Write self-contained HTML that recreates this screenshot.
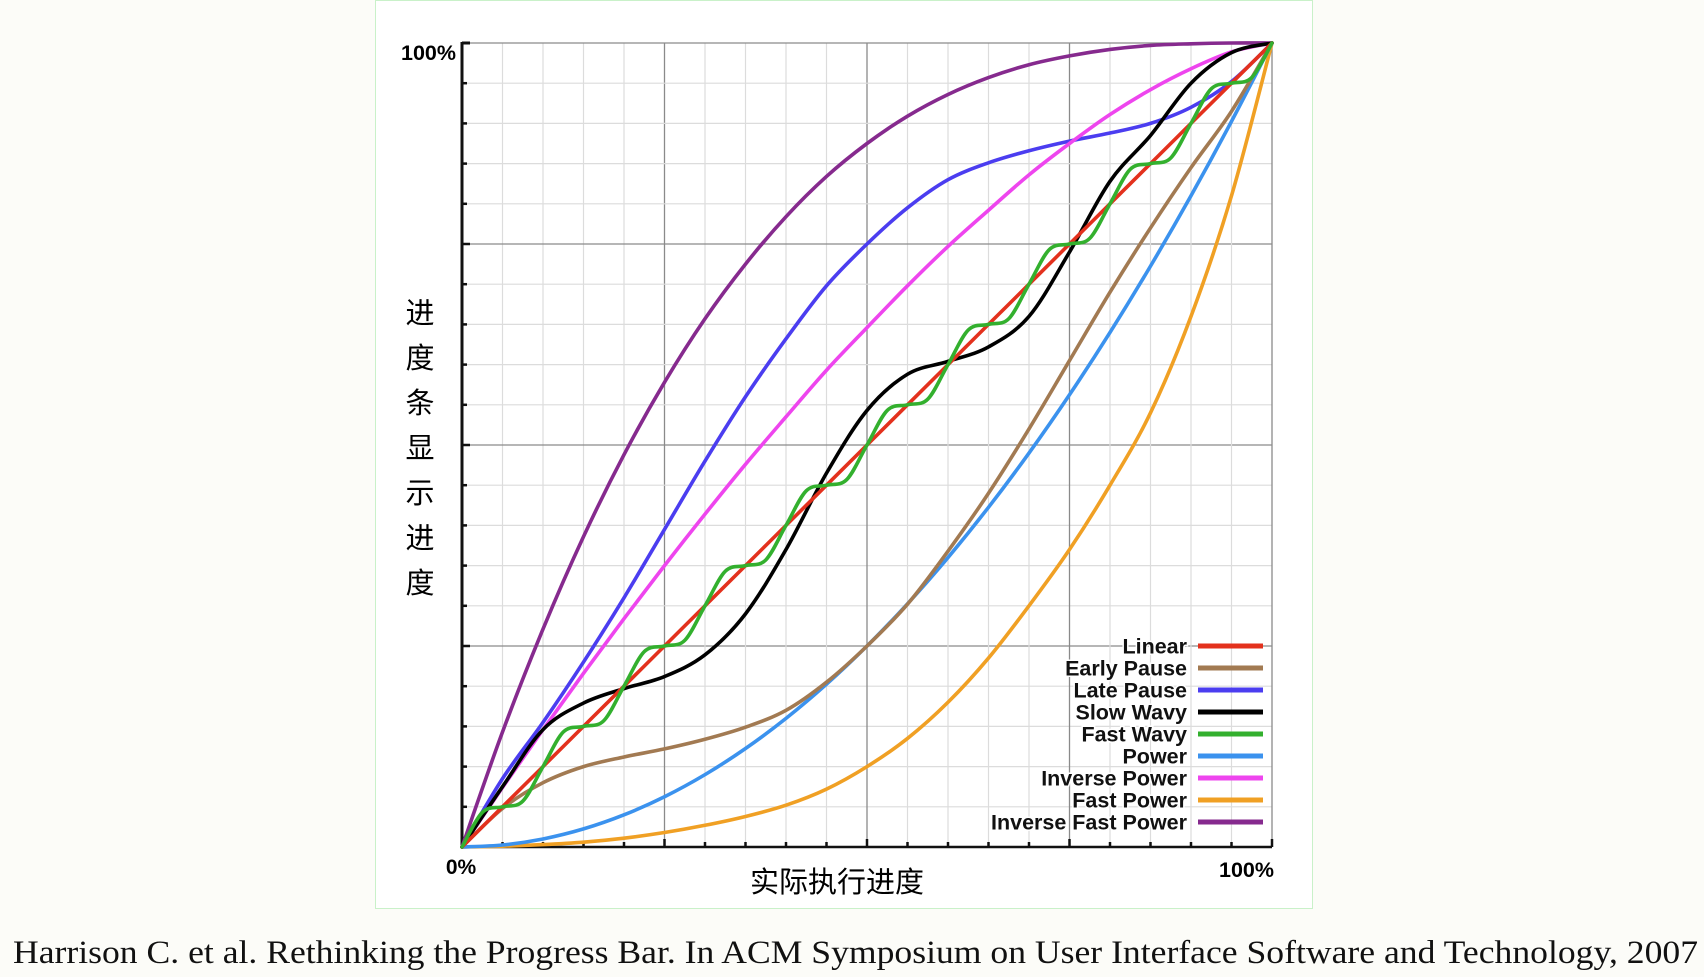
<!DOCTYPE html>
<html><head><meta charset="utf-8">
<style>
html,body{margin:0;padding:0;background:#fcfcf8;}
svg{display:block;}
</style></head>
<body>
<svg id="chart" width="1704" height="977" viewBox="0 0 1704 977" xmlns="http://www.w3.org/2000/svg">
  <rect x="375.5" y="0.5" width="937" height="908" fill="#ffffff" stroke="#c9f1c9" stroke-width="1"/>
  <g id="grid"></g>
  <g id="axes"></g>
  <g id="series"></g>
  <g id="legend"></g>
  <text x="456" y="60" text-anchor="end" font-family="Liberation Sans, sans-serif" font-weight="bold" font-size="21.5">100%</text>
  <text x="461" y="874" text-anchor="middle" font-family="Liberation Sans, sans-serif" font-weight="bold" font-size="21">0%</text>
  <text x="1274" y="877" text-anchor="end" font-family="Liberation Sans, sans-serif" font-weight="bold" font-size="21.5">100%</text>
  <text x="837" y="892" text-anchor="middle" font-family="Liberation Sans, 'Noto Sans CJK SC', sans-serif" font-size="29">实际执行进度</text>
  <g font-family="Liberation Sans, 'Noto Sans CJK SC', sans-serif" font-size="29" text-anchor="middle">
    <text x="420" y="323">进</text><text x="420" y="368">度</text><text x="420" y="413">条</text><text x="420" y="458">显</text><text x="420" y="503">示</text><text x="420" y="548">进</text><text x="420" y="593">度</text>
  </g>
  <text x="13" y="963" textLength="1685" lengthAdjust="spacingAndGlyphs" font-family="Liberation Serif, serif" font-size="33" fill="#111">Harrison C. et al. Rethinking the Progress Bar. In ACM Symposium on User Interface Software and Technology, 2007</text>
</svg>
<script>
const xs20 = [0,0.05,0.1,0.15,0.2,0.25,0.3,0.35,0.4,0.45,0.5,0.55,0.6,0.65,0.7,0.75,0.8,0.85,0.9,0.95,1];
const xs40 = [0,0.025,0.05,0.075,0.1,0.125,0.15,0.175,0.2,0.225,0.25,0.275,0.3,0.325,0.35,0.375,0.4,0.425,0.45,0.475,0.5,0.525,0.55,0.575,0.6,0.625,0.65,0.675,0.7,0.725,0.75,0.775,0.8,0.825,0.85,0.875,0.9,0.925,0.95,0.975,1];
const linearVals = [0,0.05,0.1,0.15,0.2,0.25,0.3,0.35,0.4,0.45,0.5,0.55,0.6,0.65,0.7,0.75,0.8,0.85,0.9,0.95,1];
const earlyPauseVals = [0,0.048,0.08,0.1,0.112,0.122,0.134,0.149,0.17,0.205,0.25,0.302,0.368,0.44,0.52,0.605,0.69,0.77,0.845,0.915,1];
const latePauseVals = [0,0.085,0.155,0.23,0.31,0.395,0.48,0.56,0.632,0.698,0.75,0.795,0.83,0.851,0.866,0.878,0.888,0.9,0.92,0.952,1];
const slowWavyVals = [0,0.075,0.146,0.179,0.197,0.212,0.239,0.29,0.37,0.465,0.543,0.588,0.604,0.622,0.66,0.74,0.828,0.885,0.95,0.988,1];
const fastWavyVals = [0,0.043,0.05,0.057,0.1,0.143,0.15,0.157,0.2,0.243,0.25,0.257,0.3,0.343,0.35,0.357,0.4,0.443,0.45,0.457,0.5,0.543,0.55,0.557,0.6,0.643,0.65,0.657,0.7,0.743,0.75,0.757,0.8,0.843,0.85,0.857,0.9,0.943,0.95,0.957,1];
const powerVals = [0,0.0025,0.01,0.0225,0.04,0.0625,0.09,0.1225,0.16,0.2025,0.25,0.3025,0.36,0.4225,0.49,0.5625,0.64,0.7225,0.81,0.9025,1];
const inversePowerVals = [0,0.074,0.146,0.216,0.284,0.35,0.414,0.476,0.535,0.593,0.646,0.698,0.747,0.792,0.836,0.875,0.911,0.942,0.968,0.989,1];
const fastPowerVals = [0,0.001,0.003,0.006,0.011,0.018,0.027,0.038,0.052,0.072,0.1,0.135,0.18,0.235,0.3,0.37,0.45,0.54,0.66,0.81,1];
const inverseFastPowerVals = [0,0.143,0.271,0.386,0.488,0.578,0.657,0.725,0.784,0.834,0.875,0.909,0.936,0.957,0.973,0.984,0.992,0.997,0.999,1,1];
const seriesNames = ["Linear","Early Pause","Late Pause","Slow Wavy","Fast Wavy","Power","Inverse Power","Fast Power","Inverse Fast Power"];

const NS="http://www.w3.org/2000/svg";
const X0=462,X1=1272,Y0=847,Y1=43;
function sx(v){return X0+v*(X1-X0);}
function sy(v){return Y0-v*(Y0-Y1);}
function mk(tag,attrs,parent){const e=document.createElementNS(NS,tag);for(const k in attrs)e.setAttribute(k,attrs[k]);parent.appendChild(e);return e;}

const grid=document.getElementById('grid');
for(let i=1;i<=20;i++){
  const major=(i%5===0);
  const gx=sx(i/20);
  const l=mk('line',{x1:gx,y1:Y1,x2:gx,y2:Y0,stroke:major?'#8a8a8a':'#dcdcdc','stroke-width':major?1.3:1.2},grid);
  
  
  const gy=sy(i/20);
  const h=mk('line',{x1:X0,y1:gy,x2:X1,y2:gy,stroke:major?'#8a8a8a':'#dcdcdc','stroke-width':major?1.3:1.2},grid);
  
  
}
const axes=document.getElementById('axes');
const ya=mk('line',{x1:X0,y1:Y1-1,x2:X0,y2:Y0+1,stroke:'#111','stroke-width':3},axes);


const xa=mk('line',{x1:X0-1,y1:Y0,x2:X1,y2:Y0,stroke:'#111','stroke-width':2.5},axes);


mk('line',{x1:X0,y1:Y1,x2:X0+8,y2:Y1,stroke:'#111','stroke-width':3},axes);
for(let i=0;i<=20;i++){
  const major=(i%5===0);
  const t=mk('line',{x1:X0,y1:sy(i/20),x2:X0+(major?8:5),y2:sy(i/20),stroke:'#111','stroke-width':2.5},axes);
  
  
  const u=mk('line',{x1:sx(i/20),y1:Y0,x2:sx(i/20),y2:Y0-(major?8:5),stroke:'#111','stroke-width':2.5},axes);
  
  
}

function pathFrom(xsArr,ys){
  const p=xsArr.map((x,i)=>[sx(x),sy(ys[i])]);
  let d='M'+p[0][0].toFixed(2)+','+p[0][1].toFixed(2);
  for(let i=0;i<p.length-1;i++){
    const p0=p[Math.max(0,i-1)],p1=p[i],p2=p[i+1],p3=p[Math.min(p.length-1,i+2)];
    const c1=[p1[0]+(p2[0]-p0[0])/6,p1[1]+(p2[1]-p0[1])/6];
    const c2=[p2[0]-(p3[0]-p1[0])/6,p2[1]-(p3[1]-p1[1])/6];
    d+='C'+c1[0].toFixed(2)+','+c1[1].toFixed(2)+' '+c2[0].toFixed(2)+','+c2[1].toFixed(2)+' '+p2[0].toFixed(2)+','+p2[1].toFixed(2);
  }
  return d;
}
const colors={"Linear":"#e3311d","Early Pause":"#a27a52","Late Pause":"#4b3df0","Slow Wavy":"#000000","Fast Wavy":"#33b02e","Power":"#3b92ee","Inverse Power":"#ee45ee","Fast Power":"#f0a024","Inverse Fast Power":"#862a8e"};
const dataMap={"Linear":[xs20,linearVals],"Early Pause":[xs20,earlyPauseVals],"Late Pause":[xs20,latePauseVals],"Slow Wavy":[xs20,slowWavyVals],"Fast Wavy":[xs40,fastWavyVals],"Power":[xs20,powerVals],"Inverse Power":[xs20,inversePowerVals],"Fast Power":[xs20,fastPowerVals],"Inverse Fast Power":[xs20,inverseFastPowerVals]};
const drawOrder=["Fast Power","Power","Early Pause","Inverse Fast Power","Late Pause","Inverse Power","Slow Wavy","Linear","Fast Wavy"];
const series=document.getElementById('series');
drawOrder.forEach(n=>{
  const [xa2,ys]=dataMap[n];
  const pth=mk('path',{d:pathFrom(xa2,ys),fill:'none',stroke:colors[n],'stroke-width':3.6,'stroke-linejoin':'round','stroke-linecap':'round'},series);
  
  
});
const legend=document.getElementById('legend');
const rowY=[646,668,690,712,734,756,778,800,822];
seriesNames.forEach((n,i)=>{
  const t=mk('text',{x:1187,y:rowY[i]+7.5,'text-anchor':'end','font-family':'Liberation Sans, sans-serif','font-weight':'bold','font-size':21.5,fill:'#111',stroke:'#fff','stroke-width':3,'paint-order':'stroke'},legend);
  t.textContent=n;
  
  
  const l=mk('line',{x1:1198,y1:rowY[i],x2:1263,y2:rowY[i],stroke:colors[n],'stroke-width':5},legend);
  
  
});
</script>
</body></html>
